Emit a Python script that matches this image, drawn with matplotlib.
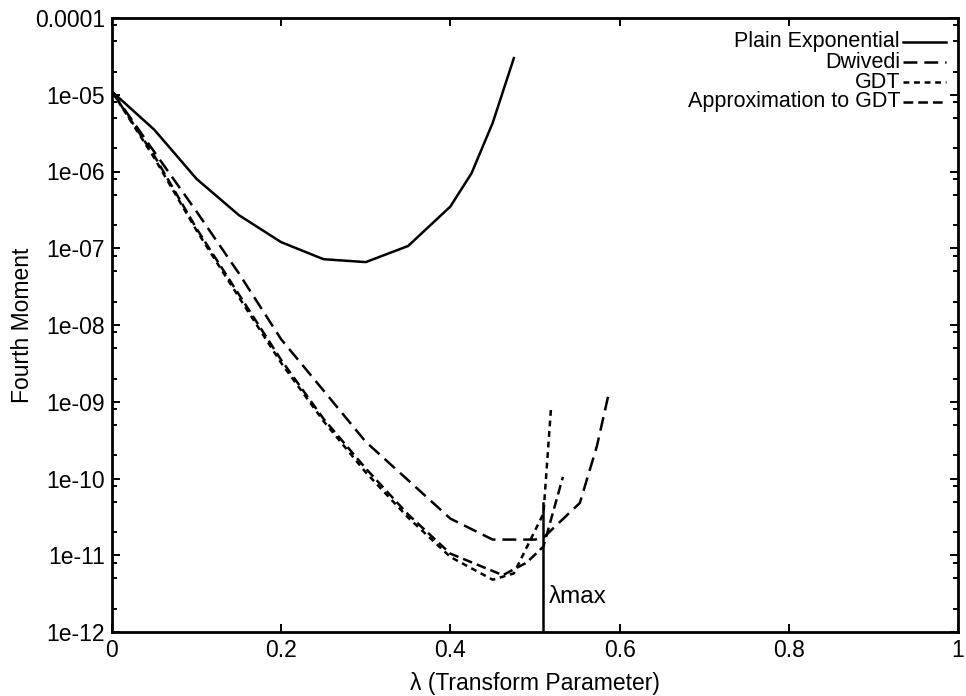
import matplotlib
matplotlib.use("Agg")
import matplotlib.pyplot as plt
from matplotlib.lines import Line2D
from matplotlib.ticker import FixedLocator, FixedFormatter
import numpy as np

plt.rcParams['font.family'] = ['Liberation Sans', 'DejaVu Sans']
plt.rcParams['lines.scale_dashes'] = False

# ---- data ----
lam_plain = [0.0, 0.05, 0.1, 0.15, 0.2, 0.25, 0.3, 0.35, 0.4, 0.425, 0.45, 0.475]
m_plain = [1.1e-5, 3.5e-6, 8.0e-7, 2.7e-7, 1.2e-7, 7.2e-8, 6.6e-8, 1.07e-7,
           3.5e-7, 9.5e-7, 4.3e-6, 3.0e-5]

lam_dwivedi = [0.0, 0.05, 0.1, 0.15, 0.2, 0.25, 0.3, 0.35, 0.4, 0.45, 0.5, 0.51,
               0.553, 0.573, 0.588]
m_dwivedi = [1.1e-5, 1.8e-6, 3.0e-7, 4.7e-8, 6.5e-9, 1.4e-9, 3.0e-10, 9.5e-11,
             3.0e-11, 1.6e-11, 1.6e-11, 1.7e-11, 4.8e-11, 2.6e-10, 1.4e-9]

lam_gdt = [0.0, 0.05, 0.1, 0.15, 0.2, 0.25, 0.3, 0.35, 0.4, 0.45, 0.475, 0.51, 0.519]
m_gdt = [1.1e-5, 1.5e-6, 1.7e-7, 2.3e-8, 3.2e-9, 5.6e-10, 1.2e-10, 3.1e-11,
         9.5e-12, 4.8e-12, 5.8e-12, 3.5e-11, 8.5e-10]

lam_approx = [0.0, 0.05, 0.1, 0.15, 0.2, 0.25, 0.3, 0.35, 0.4, 0.462, 0.49, 0.51, 0.533]
m_approx = [1.1e-5, 1.6e-6, 1.8e-7, 2.5e-8, 3.5e-9, 6.0e-10, 1.35e-10, 3.4e-11,
            1.05e-11, 5.5e-12, 8.0e-12, 1.3e-11, 1.05e-10]

lambda_max = 0.51
lambda_max_top = 4.8e-11

x_ticks = [0, 0.2, 0.4, 0.6, 0.8, 1.0]
x_tick_labels = ["0", "0.2", "0.4", "0.6", "0.8", "1"]
y_ticks = [1e-12, 1e-11, 1e-10, 1e-9, 1e-8, 1e-7, 1e-6, 1e-5, 1e-4]
y_tick_labels = ["1e-12", "1e-11", "1e-10", "1e-09", "1e-08", "1e-07", "1e-06",
                 "1e-05", "0.0001"]

labels = ["Plain Exponential", "Dwivedi", "GDT", "Approximation to GDT"]

# ---- styles ----
fs = 16.5
lw = 1.8
styles = [dict(linestyle='-'),
          dict(dashes=(10.0, 5.0)),
          dict(dashes=(4.2, 3.4)),
          dict(dashes=(7.0, 3.6))]

fig = plt.figure(figsize=(9.66, 6.96), dpi=100)
ax = fig.add_axes([112/966, 1 - 632/696, (958-112)/966, (632-18)/696])

series = [(lam_plain, m_plain), (lam_dwivedi, m_dwivedi),
          (lam_gdt, m_gdt), (lam_approx, m_approx)]
for (xs, ys), st in zip(series, styles):
    ax.plot(xs, ys, color='black', linewidth=lw, **st)

ax.plot([lambda_max, lambda_max], [1e-12, lambda_max_top], color='black', linewidth=lw)
ax.text(lambda_max + 0.006, 2.9e-12, "λmax", fontsize=fs + 1, va='center', ha='left')

ax.set_yscale('log')
ax.set_xlim(0, 1)
ax.set_ylim(1e-12, 1e-4)

ax.xaxis.set_major_locator(FixedLocator(x_ticks))
ax.xaxis.set_major_formatter(FixedFormatter(x_tick_labels))
ax.yaxis.set_major_locator(FixedLocator(y_ticks))
ax.yaxis.set_major_formatter(FixedFormatter(y_tick_labels))
minor = [m * 10.0**e for e in range(-12, -4) for m in (2, 5, 8)]
ax.yaxis.set_minor_locator(FixedLocator(minor))
ax.xaxis.set_minor_locator(FixedLocator([]))

ax.tick_params(which='both', direction='in', top=True, right=True,
               labelsize=fs, width=1.4, color='black')
ax.tick_params(which='major', length=6, pad=5)
ax.tick_params(which='minor', length=3.5)

for sp in ax.spines.values():
    sp.set_linewidth(2.0)

ax.set_xlabel("λ (Transform Parameter)", fontsize=fs, labelpad=7)
ax.set_ylabel("Fourth Moment", fontsize=fs, labelpad=1)

# gnuplot-style key: right-aligned text, sample to the right
key_fs = 15.5
key_y = [42, 62, 82, 102]
for lab, st, yp in zip(labels, styles, key_y):
    yf = 1 - yp / 696
    fig.text(900/966, yf, lab, fontsize=key_fs, ha='right', va='center')
    fig.add_artist(Line2D([903/966, 946/966], [yf, yf], color='black',
                          linewidth=lw, transform=fig.transFigure, **st))

fig.savefig("out.png", dpi=100, facecolor='white')
